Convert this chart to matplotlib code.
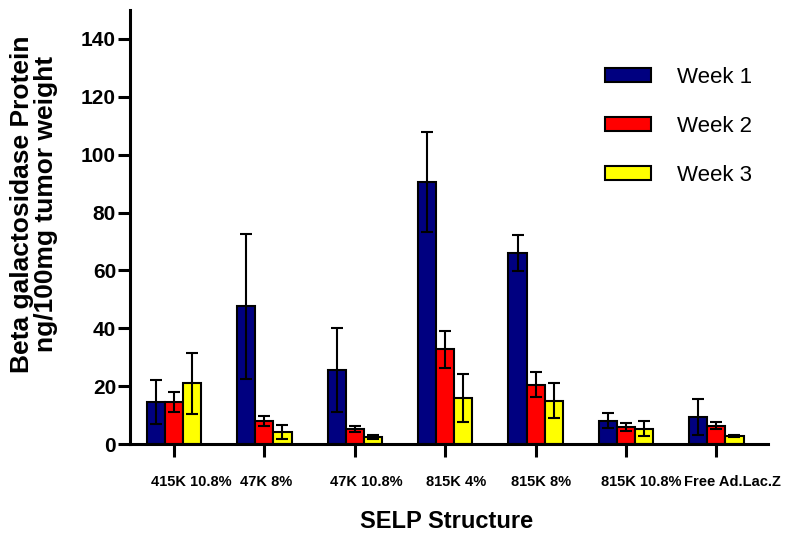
import matplotlib
matplotlib.use("Agg")
import matplotlib.pyplot as plt
import matplotlib.transforms as mtransforms
import numpy as np

plt.rcParams['font.family'] = ['Liberation Sans', 'DejaVu Sans']

categories = ["415K 10.8%", "47K 8%", "47K 10.8%", "815K 4%", "815K 8%", "815K 10.8%", "Free Ad.Lac.Z"]
series_names = ["Week 1", "Week 2", "Week 3"]
week1 = [14.5, 47.6, 25.6, 90.4, 66.0, 8.1, 9.4]
week1_err = [7.5, 25.0, 14.4, 17.3, 6.2, 2.7, 6.2]
week2 = [14.5, 8.0, 5.2, 32.8, 20.5, 5.8, 6.3]
week2_err = [3.5, 1.7, 1.0, 6.4, 4.3, 1.4, 1.2]
week3 = [21.0, 4.2, 2.4, 15.9, 15.0, 5.2, 2.8]
week3_err = [10.5, 2.4, 0.7, 8.2, 6.1, 2.6, 0.3]
y_ticks = [0, 20, 40, 60, 80, 100, 120, 140]

colors = ["#000080", "#FF0000", "#FFFF00"]
label_offsets_px = [17, 2, 12, 11, 5, 15, 16]

fig = plt.figure(figsize=(7.92, 5.4), dpi=100)
ax = fig.add_axes([130/792, 1-444/540, 638/792, 434/540])

x = np.arange(len(categories))
width = 0.2
series = [(week1, week1_err), (week2, week2_err), (week3, week3_err)]
for i, ((vals, errs), name, col) in enumerate(zip(series, series_names, colors)):
    xpos = x + (i - 1) * width
    ax.bar(xpos, vals, width=width, color=col, edgecolor='black', linewidth=1.5,
           label=name, zorder=2)
    ax.errorbar(xpos, vals, yerr=errs, fmt='none', ecolor='black', elinewidth=1.5,
                capsize=4, capthick=1.5, zorder=3)

ax.set_xlim(-0.487, 6.571)
ax.set_ylim(0, 150)
ax.set_yticks(y_ticks)
ax.set_yticklabels([str(v) for v in y_ticks], fontsize=15, fontweight='bold')
ax.set_xticks(x)
ax.set_xticklabels([])
base = ax.get_xaxis_transform()
for xi, (lab, off) in enumerate(zip(categories, label_offsets_px)):
    tr = base + mtransforms.ScaledTranslation(off / 100, 0, fig.dpi_scale_trans)
    ax.text(xi, -38 / 434, lab, transform=tr, ha='center', va='center',
            fontsize=10.5, fontweight='bold')

for s in ['top', 'right']:
    ax.spines[s].set_visible(False)
for s in ['left', 'bottom']:
    ax.spines[s].set_linewidth(2.2)
ax.tick_params(axis='both', width=2.2, length=9, color='black')
ax.tick_params(axis='y', pad=1)

ax.set_ylabel("Beta galactosidase Protein\nng/100mg tumor weight", fontsize=19,
              fontweight='bold', linespacing=0.95, va='center')
ax.yaxis.set_label_coords((34 - 130) / 638, (444 - 204) / 434)
ax.set_xlabel("SELP Structure", fontsize=17, fontweight='bold', va='center')
ax.xaxis.set_label_coords((447 - 130) / 638, (444 - 521) / 434)

leg = ax.legend(loc='upper left', bbox_to_anchor=(605/792, 1-67/540),
                bbox_transform=fig.transFigure, frameon=False, fontsize=16,
                handlelength=2.07, handleheight=0.59, handletextpad=1.17,
                labelspacing=1.25, borderpad=0, borderaxespad=0)

fig.savefig("out.png", dpi=100)
